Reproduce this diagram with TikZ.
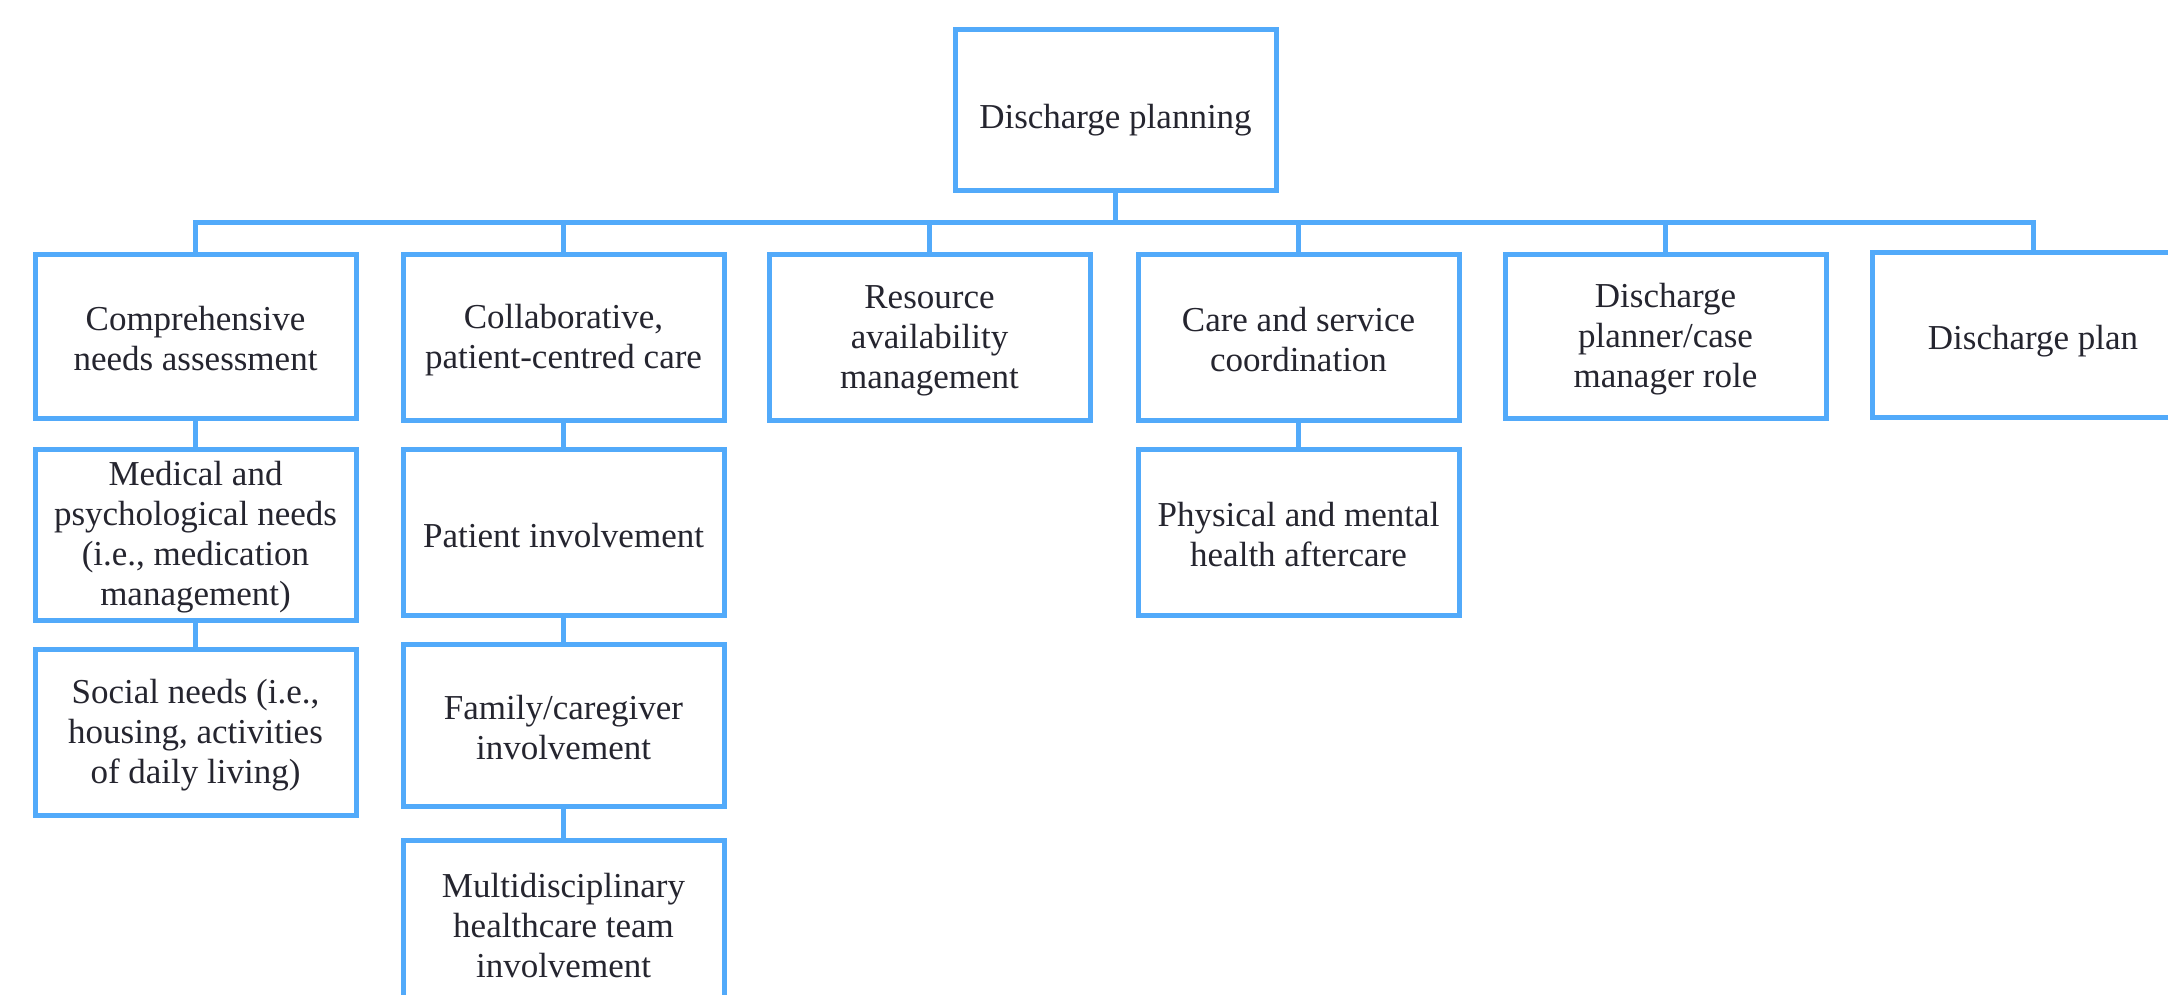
\documentclass[tikz,border=0pt]{standalone}
\usepackage{fontspec}
\setmainfont{Liberation Serif}
\definecolor{boxblue}{RGB}{82,170,250}
\definecolor{txt}{RGB}{37,37,47}
\newcommand\sa{\rule[-8pt]{0pt}{38pt}}
\newcommand\sm{\rule[-8pt]{0pt}{32pt}}
\newcommand\sz{\rule[-2pt]{0pt}{32pt}}
\begin{document}
\begin{tikzpicture}[x=1pt,y=-1pt,
  box/.style={draw=boxblue, line width=5pt, rectangle, minimum width=321pt, align=center,
    inner sep=0pt, text=txt, font=\fontsize{35}{40}\selectfont},
  link/.style={draw=boxblue, line width=5pt}]
\useasboundingbox (0,0) rectangle (2168,995);
\clip (0,0) rectangle (2168,995);
\fill[white] (0,0) rectangle (2168,995);
\coordinate (bus) at (0,223);
% top
\node[box, minimum height=161pt] (top) at (1115.5,110.5) {\rule[0pt]{0pt}{43pt}Discharge planning};
% row 1
\node[box, minimum height=164pt] (c1) at (195.5,336) {\sa Comprehensive\\\sz needs assessment};
\node[box, minimum height=166pt] (c2) at (563.5,337) {\sa Collaborative,\\\sz patient-centred care};
\node[box, minimum height=166pt] (c3) at (929.5,337) {\sa Resource\\\sm availability\\\sz management};
\node[box, minimum height=166pt] (c4) at (1298.5,337) {\sa Care and service\\\sz coordination};
\node[box, minimum height=164pt] (c5) at (1665.5,336) {\sa Discharge\\\sm planner/case\\\sz manager role};
\node[box, minimum height=165pt] (c6) at (2033,335) {\rule[-2pt]{0pt}{39pt}Discharge plan};
% row 2
\node[box, minimum height=171pt] (m1) at (195.5,534.5) {\sa Medical and\\\sm psychological needs\\\sm (i.e., medication\\\sz management)};
\node[box, minimum height=166pt] (p2) at (563.5,532) {\rule[-2pt]{0pt}{34pt}Patient involvement};
\node[box, minimum height=166pt] (h4) at (1298.5,532) {\sa Physical and mental\\\sz health aftercare};
% row 3
\node[box, minimum height=166pt] (s1) at (195.5,732) {\sa Social needs (i.e.,\\\sm housing, activities\\\sz of daily living)};
\node[box, minimum height=162pt] (f2) at (563.5,725) {\sa Family/caregiver\\\sz involvement};
% row 4
\node[box, minimum height=166pt] (t2) at (563.5,923) {\sa Multidisciplinary\\\sm healthcare team\\\sz involvement};
% connectors
\draw[link] (top.south) -- (top.south |- bus);
\draw[link] (c1.north) -- (c1.north |- bus) -- (c6.north |- bus) -- (c6.north);
\foreach \n in {c2,c3,c4,c5} \draw[link] (\n.north) -- (\n.north |- bus);
\draw[link] (c1.south) -- (m1.north);
\draw[link] (m1.south) -- (s1.north);
\draw[link] (c2.south) -- (p2.north);
\draw[link] (p2.south) -- (f2.north);
\draw[link] (f2.south) -- (t2.north);
\draw[link] (c4.south) -- (h4.north);
\end{tikzpicture}
\end{document}
